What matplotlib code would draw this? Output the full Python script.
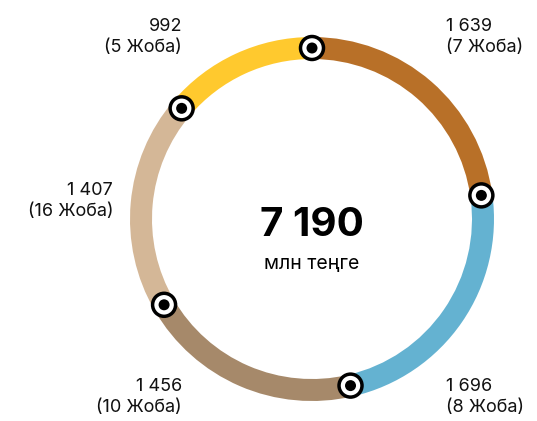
import numpy as np
import matplotlib.pyplot as plt
from matplotlib.patches import Circle

plt.rcParams['font.family'] = ['Inter', 'DejaVu Sans']

values = [1639, 1696, 1456, 1407, 992]
projects = [7, 8, 10, 16, 5]
colors = ['#B87028', '#64B2D1', '#A6896A', '#D4B797', '#FFC92E']
total_label = '7 190'
unit_label = 'млн теңге'

W, H = 537, 421
cx, cy = 312, H - 219
r_mid = 171
ring_w = 22

fig = plt.figure(figsize=(W / 100, H / 100), dpi=100)
ax = fig.add_axes([0, 0, 1, 1])

ax.pie(values, colors=colors, startangle=90, counterclock=False,
       radius=r_mid + ring_w / 2, center=(cx, cy),
       wedgeprops=dict(width=ring_w, linewidth=0))
ax.set_xlim(0, W)
ax.set_ylim(0, H)
ax.set_aspect('equal')
ax.axis('off')

# markers at segment boundaries
cum = np.concatenate([[0], np.cumsum(values)[:-1]])
angles = np.deg2rad(90 - cum / sum(values) * 360)
for a in angles:
    px, py = cx + r_mid * np.cos(a), cy + r_mid * np.sin(a)
    ax.add_patch(Circle((px, py), 11.5, facecolor='white', edgecolor='black',
                        linewidth=2.5, zorder=5))
    ax.add_patch(Circle((px, py), 5.5, facecolor='black', zorder=6))

def fmt(v):
    return f'{v:,}'.replace(',', ' ')

# label positions (pixel coords, top-left origin)
label_pos = [(446, 37, 'left'), (446, 397, 'left'), (182, 397, 'right'),
             (113, 201, 'right'), (182, 37, 'right')]
for v, p, (x, y, ha) in zip(values, projects, label_pos):
    ax.text(x, H - y, f'{fmt(v)}\n({p} Жоба)', ha=ha, va='center',
            fontsize=13, linespacing=1.33, color='#111111')

ax.text(cx, H - 225, total_label, ha='center', va='center',
        fontsize=29, fontweight='bold', color='black')
ax.text(cx, H - 264, unit_label, ha='center', va='center',
        fontsize=14, color='black')

fig.savefig('out.png', dpi=100)
